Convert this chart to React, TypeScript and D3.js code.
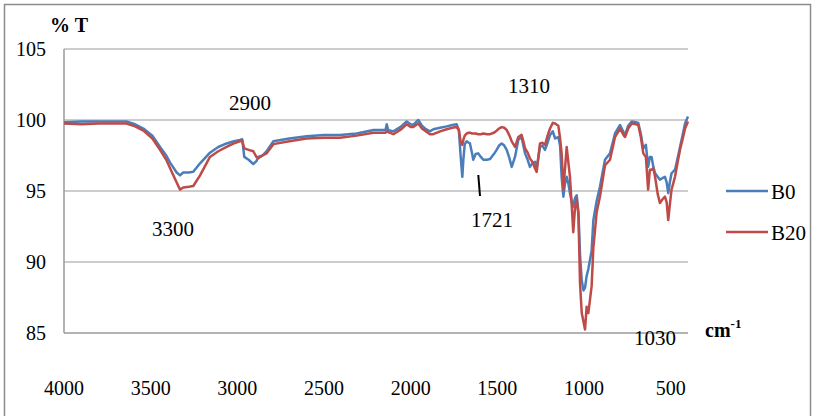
import React from "react";
import * as d3 from "d3";

// Wavenumber (cm-1) sample positions
const wavenumbers = [
  4000, 3900, 3800, 3700, 3640, 3590, 3542, 3490, 3446, 3410, 3388, 3350, 3331, 3312, 3280, 3254,
  3215, 3158, 3110, 3062, 3020, 2985, 2972, 2960, 2935, 2908, 2890, 2879, 2855, 2831, 2792, 2700,
  2600, 2500, 2408, 2311, 2215, 2145, 2138, 2130, 2100, 2060, 2023, 2000, 1985, 1956, 1935, 1917,
  1889, 1869, 1830, 1792, 1760, 1735, 1722, 1712, 1702, 1696, 1688, 1677, 1665, 1658, 1645, 1639,
  1625, 1610, 1595, 1581, 1560, 1542, 1520, 1504, 1490, 1475, 1460, 1446, 1430, 1417, 1398, 1379,
  1360, 1350, 1340, 1325, 1312, 1295, 1283, 1273, 1254, 1240, 1225, 1210, 1196, 1180, 1167, 1148,
  1138, 1129, 1119, 1110, 1100, 1090, 1081, 1070, 1062, 1052, 1042, 1032, 1023, 1013, 1003, 994,
  985, 975, 966, 956, 946, 927, 908, 879, 850, 821, 792, 770, 763, 745, 725, 700,
  687, 672, 658, 643, 630, 620, 610, 600, 590, 575, 562, 548, 533, 523, 514, 505,
  495, 475, 460, 446, 430, 417, 400,
];

const b0 = [
  99.85, 99.9, 99.9, 99.9, 99.9, 99.7, 99.4, 98.9, 98.1, 97.5, 97.0, 96.3, 96.1, 96.3, 96.3, 96.35,
  96.95, 97.7, 98.1, 98.35, 98.5, 98.6, 98.65, 97.4, 97.2, 96.9, 97.1, 97.4, 97.5, 97.8, 98.5, 98.7,
  98.85, 98.95, 98.95, 99.05, 99.3, 99.3, 99.7, 99.3, 99.2, 99.5, 99.9, 99.7, 99.65, 100.0, 99.6, 99.4,
  99.2, 99.35, 99.45, 99.55, 99.65, 99.7, 99.3, 97.5, 96.0, 97.2, 98.3, 98.5, 98.4, 98.35, 97.6, 97.2,
  97.6, 97.65, 97.4, 97.2, 97.2, 97.25, 97.6, 97.9, 98.2, 98.35, 98.2, 97.9, 97.3, 96.7, 97.4, 98.6,
  98.8, 98.2, 97.65, 97.2, 96.7, 97.0, 97.05, 96.6, 98.1, 98.2, 97.9, 98.4, 98.95, 99.2, 98.7, 98.8,
  98.2, 96.0, 94.6, 95.5, 96.0, 95.5, 94.85, 94.2, 93.9, 94.5, 94.7, 93.5, 90.5, 88.7, 88.0, 88.2,
  89.0, 89.5, 90.1, 90.8, 92.95, 94.3, 95.3, 97.2, 97.65, 99.05, 99.65, 99.1, 98.95, 99.6, 99.9, 99.85,
  99.8, 99.0, 98.0, 98.25, 96.7, 97.4, 97.4, 96.7, 96.25, 96.0, 95.8, 95.9, 96.0, 95.6, 94.85, 95.6,
  96.25, 96.5, 97.3, 98.1, 99.0, 99.75, 100.25,
];

const b20 = [
  99.75, 99.7, 99.75, 99.75, 99.75, 99.55, 99.25, 98.7, 97.9, 97.2, 96.6, 95.6, 95.1, 95.25, 95.3, 95.35,
  96.1, 97.4, 97.8, 98.1, 98.35, 98.5, 98.55, 98.0, 97.9, 97.8, 97.4, 97.3, 97.5, 97.65, 98.3, 98.5,
  98.7, 98.75, 98.75, 98.9, 99.1, 99.1, 99.2, 99.15, 99.0, 99.3, 99.7, 99.5, 99.5, 99.75, 99.4, 99.25,
  99.0, 99.0, 99.2, 99.35, 99.45, 99.5, 99.3, 98.5, 98.25, 98.6, 98.9, 99.05, 99.1, 99.1, 99.05, 99.05,
  99.05, 99.0, 99.0, 99.05, 99.0, 99.0, 99.1, 99.25, 99.4, 99.5, 99.45, 99.3, 98.9, 98.5, 98.1, 98.8,
  98.95, 98.5, 98.0, 97.7, 97.3, 97.0, 96.6, 96.35, 98.35, 98.4, 98.25, 98.9, 99.4, 99.8, 99.75, 99.6,
  98.7, 97.65, 95.1, 96.5, 98.1, 97.0, 96.0, 93.8, 92.1, 93.8, 94.4, 93.3, 88.5, 86.4, 85.8, 85.25,
  86.85, 86.4, 87.3, 88.3, 91.0, 93.5, 94.6, 96.8, 97.2, 98.8, 99.4, 98.9, 98.8, 99.4, 99.75, 99.7,
  99.65, 98.8, 97.65, 97.4, 95.1, 96.5, 96.5, 96.6, 96.0, 94.8, 94.15, 94.4, 94.6, 94.2, 92.95, 94.0,
  95.1, 96.0, 97.0, 97.9, 98.7, 99.4, 99.9,
];

const seriesNames = ["B0", "B20"];
const seriesColors = ["#4a7ebb", "#be4b48"];
const xTicks = [4000, 3500, 3000, 2500, 2000, 1500, 1000, 500];
const yTicks = [85, 90, 95, 100, 105];

const annotations = [
  { text: "2900", x: 250, y: 110 },
  { text: "1310", x: 529, y: 93 },
  { text: "3300", x: 173, y: 236 },
  { text: "1721", x: 492, y: 227 },
  { text: "1030", x: 655, y: 345 },
];

export default function App() {
  const W = 815;
  const H = 416;
  const left = 64;
  const right = 688;
  const top = 49;
  const bottom = 333;

  const x = d3.scaleLinear().domain([4000, 400]).range([left, right]);
  const y = d3.scaleLinear().domain([85, 105]).range([bottom, top]);

  const line = d3
    .line<number>()
    .x((_, i) => x(wavenumbers[i]))
    .y((d) => y(d));

  const series = [b0, b20];
  const font = "'Liberation Serif', 'Times New Roman', serif";

  return (
    <svg
      width={W}
      height={H}
      style={{ position: "fixed", left: 0, top: 0, background: "#fff" }}
      fontFamily={font}
    >
      <rect x={0} y={0} width={W} height={H} fill="#fff" />
      <rect x={4.5} y={4.5} width={806} height={430} fill="none" stroke="#8c8c8c" strokeWidth={1.5} />

      {/* gridlines */}
      {yTicks.map((t) => (
        <line
          key={t}
          x1={left}
          x2={right}
          y1={y(t)}
          y2={y(t)}
          stroke={t === 85 ? "#9a9a9a" : "#bcbcbc"}
          strokeWidth={1.5}
        />
      ))}
      <line x1={left} x2={left} y1={top} y2={bottom} stroke="#9a9a9a" strokeWidth={1.5} />

      {/* y tick labels */}
      {yTicks.map((t) => (
        <text key={t} x={46} y={y(t) + 7} textAnchor="end" fontSize={20} fill="#000">
          {t}
        </text>
      ))}

      {/* x tick labels */}
      {xTicks.map((t) => (
        <text key={t} x={x(t)} y={395} textAnchor="middle" fontSize={20} fill="#000">
          {t}
        </text>
      ))}

      {/* series */}
      {series.map((s, i) => (
        <path
          key={seriesNames[i]}
          d={line(s) || ""}
          fill="none"
          stroke={seriesColors[i]}
          strokeWidth={2.5}
          strokeLinejoin="round"
        />
      ))}

      {/* annotations */}
      {annotations.map((a) => (
        <text key={a.text} x={a.x} y={a.y} textAnchor="middle" fontSize={21} fill="#000">
          {a.text}
        </text>
      ))}
      <line x1={478.3} y1={175} x2={480} y2={196} stroke="#000" strokeWidth={2} />

      {/* axis titles */}
      <text x={50} y={32} fontSize={20} fontWeight="bold" fill="#000">
        % T
      </text>
      <text x={705} y={337} fontSize={20} fontWeight="bold" fill="#000">
        cm
        <tspan fontSize={13} dy={-9}>
          -1
        </tspan>
      </text>

      {/* legend */}
      {seriesNames.map((n, i) => {
        const ly = 191 + i * 41;
        return (
          <g key={n}>
            <line x1={726} x2={768} y1={ly} y2={ly} stroke={seriesColors[i]} strokeWidth={2.5} />
            <text x={771} y={ly + 8} fontSize={21} fill="#000">
              {n}
            </text>
          </g>
        );
      })}
    </svg>
  );
}
